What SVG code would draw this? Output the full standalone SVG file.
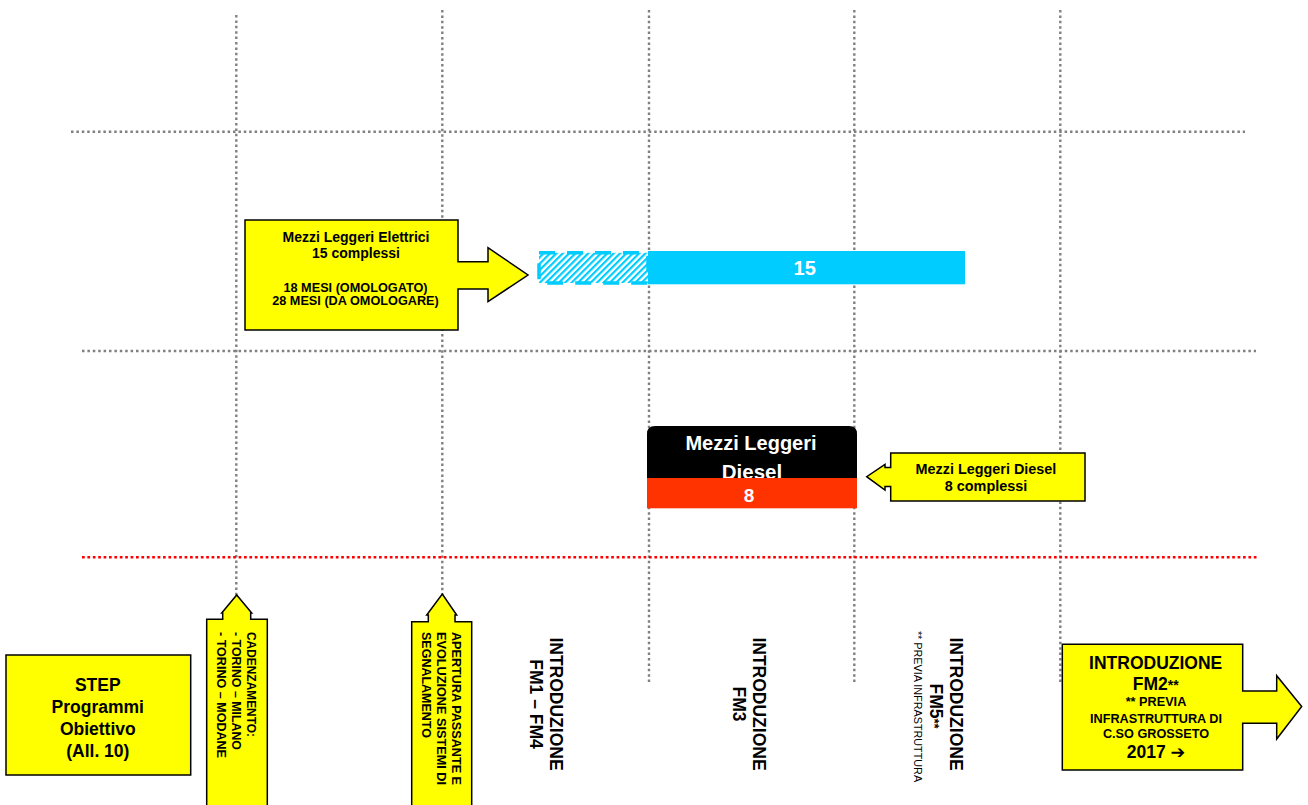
<svg xmlns="http://www.w3.org/2000/svg" width="1308" height="805" viewBox="0 0 1308 805">
<defs>
<style>
.grid{stroke:#808080;stroke-width:2.4;stroke-dasharray:2.5 2.9;fill:none}
.red{stroke:#FF0000;stroke-width:2.6;stroke-dasharray:2.7 2.7;fill:none}
.yel{fill:#FFFF00;stroke:#000;stroke-width:1.5;stroke-linejoin:miter}
.t{font-family:"Liberation Sans",Arial,sans-serif;font-weight:bold;fill:#000}
.c{text-anchor:middle}
.w{fill:#FFFFFF}
</style>
<pattern id="hatch" patternUnits="userSpaceOnUse" width="4.5" height="4.5" patternTransform="rotate(45)">
<rect width="4.5" height="4.5" fill="#FFFFFF"/>
<rect width="2.2" height="4.5" fill="#00CCFF"/>
</pattern>
</defs>
<rect width="1308" height="805" fill="#FFFFFF"/>

<g id="grid">
<line class="grid" x1="236.3" y1="15" x2="236.3" y2="596"/>
<line class="grid" x1="442.3" y1="10" x2="442.3" y2="596"/>
<line class="grid" x1="649" y1="10" x2="649" y2="684"/>
<line class="grid" x1="854.3" y1="10" x2="854.3" y2="684"/>
<line class="grid" x1="1060.3" y1="10" x2="1060.3" y2="684"/>
<line class="grid" x1="71" y1="131.7" x2="1245" y2="131.7"/>
<line class="grid" x1="82" y1="351" x2="1256" y2="351"/>
<line class="red" x1="82" y1="557.3" x2="1257" y2="557.3"/>
</g>

<g id="node-elettrici">
<path class="yel" d="M245,220 H458 V261.7 H488 V247.7 L528,275 L488,301.7 V289 H458 V330 H245 Z"/>
<text class="t c" x="356" y="241.7" font-size="14">Mezzi Leggeri Elettrici</text>
<text class="t c" x="356" y="258.3" font-size="14">15 complessi</text>
<text class="t c" x="355.5" y="291.5" font-size="12.7">18 MESI (OMOLOGATO)</text>
<text class="t c" x="355.5" y="304.5" font-size="12.7">28 MESI (DA OMOLOGARE)</text>
</g>

<g id="node-bar15">
<rect x="539" y="252.8" width="109" height="30.2" fill="url(#hatch)" stroke="#00CCFF" stroke-width="3.5" stroke-dasharray="16 12"/>
<rect x="648" y="251" width="317" height="33.3" fill="#00CCFF"/>
<text class="t c w" x="804.7" y="275" font-size="20">15</text>
</g>

<g id="node-diesel-bar">
<path d="M647,478 V434 Q647,426 655,426 H849 Q857,426 857,434 V478 Z" fill="#000000"/>
<text class="t c w" x="751" y="450" font-size="20">Mezzi Leggeri</text>
<text class="t c w" x="752" y="478.5" font-size="20.5">Diesel</text>
<rect x="647" y="478" width="210" height="30.3" fill="#FF3300"/>
<text class="t c w" x="749" y="502" font-size="19">8</text>
</g>

<g id="node-diesel-callout">
<path class="yel" d="M890.7,453 H1085 V501 H890.7 V486.5 H885 V490 L866.7,476.7 L885,464.3 V467.5 H890.7 Z"/>
<text class="t c" x="986" y="474" font-size="14.4">Mezzi Leggeri Diesel</text>
<text class="t c" x="986" y="490.5" font-size="14.4">8 complessi</text>
</g>

<g id="node-step">
<rect class="yel" x="6" y="655" width="184.7" height="120"/>
<text class="t c" x="97.8" y="690.5" font-size="17.5">STEP</text>
<text class="t c" x="97.8" y="712.5" font-size="17.5">Programmi</text>
<text class="t c" x="97.8" y="734.5" font-size="17.5">Obiettivo</text>
<text class="t c" x="97.8" y="756.5" font-size="17.5">(All. 10)</text>
</g>

<g id="node-cadenzamento">
<path class="yel" d="M206.7,806 V619.3 H222.7 V613 H221.7 L236.7,595 L251.7,613 H250.7 V619.3 H267.3 V806"/>
<text class="t" transform="translate(246.7,632) rotate(90)" font-size="13" textLength="105" lengthAdjust="spacingAndGlyphs">CADENZAMENTO:</text>
<text class="t" transform="translate(231.7,632) rotate(90)" font-size="13" textLength="118" lengthAdjust="spacingAndGlyphs">- TORINO – MILANO</text>
<text class="t" transform="translate(216.7,632) rotate(90)" font-size="13" textLength="126" lengthAdjust="spacingAndGlyphs">- TORINO – MODANE</text>
</g>

<g id="node-passante">
<path class="yel" d="M411.7,806 V621.7 H428.3 V615 H426.7 L442.3,594 L456.7,615 H455 V621.7 H471.7 V806"/>
<text class="t" transform="translate(451.7,632) rotate(90)" font-size="13" textLength="153" lengthAdjust="spacingAndGlyphs">APERTURA PASSANTE E</text>
<text class="t" transform="translate(436.5,632) rotate(90)" font-size="13" textLength="153" lengthAdjust="spacingAndGlyphs">EVOLUZIONE SISTEMI DI</text>
<text class="t" transform="translate(421.7,632) rotate(90)" font-size="13" textLength="106" lengthAdjust="spacingAndGlyphs">SEGNALAMENTO</text>
</g>

<g id="node-fm1-fm4">
<text class="t c" transform="translate(549.5,704) rotate(90)" font-size="17.5">INTRODUZIONE</text>
<text class="t c" transform="translate(530,704) rotate(90)" font-size="17.5">FM1 – FM4</text>
</g>

<g id="node-fm3">
<text class="t c" transform="translate(753.3,704) rotate(90)" font-size="17.5">INTRODUZIONE</text>
<text class="t c" transform="translate(732.5,704) rotate(90)" font-size="17.5">FM3</text>
</g>

<g id="node-fm5">
<text class="t c" transform="translate(950,704) rotate(90)" font-size="17.5">INTRODUZIONE</text>
<text class="t c" transform="translate(930,706) rotate(90)" font-size="17.5">FM5<tspan font-size="13">**</tspan></text>
<text class="c" transform="translate(914,706.5) rotate(90)" font-family="'Liberation Sans',Arial,sans-serif" font-size="10.8" fill="#000">** PREVIA INFRASTRUTTURA</text>
</g>

<g id="node-fm2">
<path class="yel" d="M1062.3,644.3 H1242.7 V691 H1276.7 V675.7 L1301.7,706.5 L1276.7,739 V723.3 H1242.7 V770 H1062.3 Z"/>
<text class="t c" x="1155.7" y="669.3" font-size="17.5">INTRODUZIONE</text>
<text class="t c" x="1155.7" y="690" font-size="17.5">FM2<tspan font-size="14">**</tspan></text>
<text class="t c" x="1156" y="706.3" font-size="12.7">** PREVIA</text>
<text class="t c" x="1156" y="722.7" font-size="12.7">INFRASTRUTTURA DI</text>
<text class="t c" x="1156" y="737.5" font-size="12.7">C.SO GROSSETO</text>
<text class="t c" x="1156" y="758.3" font-size="17.5"><tspan>2017 </tspan><tspan font-family="'DejaVu Sans',sans-serif">➔</tspan></text>
</g>
</svg>
